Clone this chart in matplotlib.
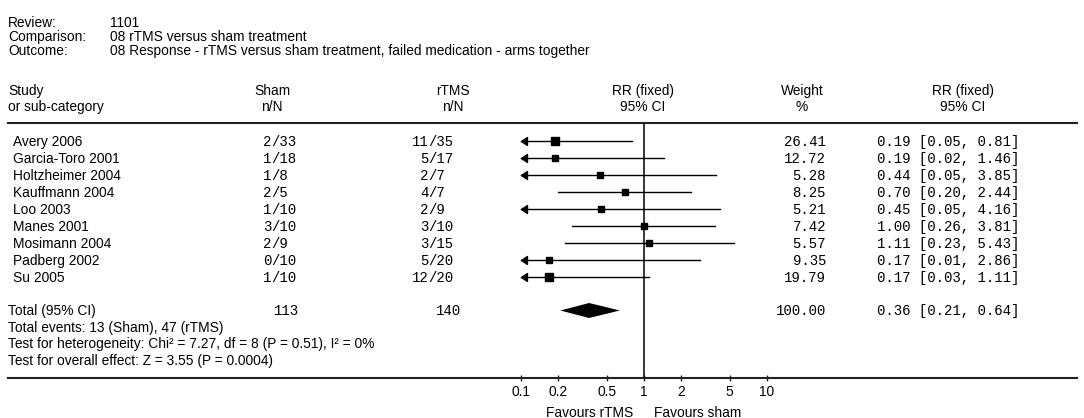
import matplotlib
matplotlib.use("Agg")
import matplotlib.pyplot as plt
from matplotlib.path import Path
import numpy as np

# ---------------- data ----------------
review_labels = ["Review:", "Comparison:", "Outcome:"]
review_values = ["1101", "08 rTMS versus sham treatment",
                 "08 Response - rTMS versus sham treatment, failed medication - arms together"]

studies = ["Avery 2006", "Garcia-Toro 2001", "Holtzheimer 2004", "Kauffmann 2004",
           "Loo 2003", "Manes 2001", "Mosimann 2004", "Padberg 2002", "Su 2005"]
sham_n = [2, 1, 1, 2, 1, 3, 2, 0, 1]
sham_N = [33, 18, 8, 5, 10, 10, 9, 10, 10]
rtms_n = [11, 5, 2, 4, 2, 3, 3, 5, 12]
rtms_N = [35, 17, 7, 7, 9, 10, 15, 20, 20]
weights = [26.41, 12.72, 5.28, 8.25, 5.21, 7.42, 5.57, 9.35, 19.79]
rr = [0.19, 0.19, 0.44, 0.70, 0.45, 1.00, 1.11, 0.17, 0.17]
ci_low = [0.05, 0.02, 0.05, 0.20, 0.05, 0.26, 0.23, 0.01, 0.03]
ci_high = [0.81, 1.46, 3.85, 2.44, 4.16, 3.81, 5.43, 2.86, 1.11]

total_label = "Total (95% CI)"
total_sham = 113
total_rtms = 140
total_weight = 100.00
total_rr = 0.36
total_low = 0.21
total_high = 0.64
footer_lines = ["Total events: 13 (Sham), 47 (rTMS)",
                "Test for heterogeneity: Chi\u00b2 = 7.27, df = 8 (P = 0.51), I\u00b2 = 0%",
                "Test for overall effect: Z = 3.55 (P = 0.0004)"]

tick_values = [0.1, 0.2, 0.5, 1, 2, 5, 10]
tick_labels = ["0.1", "0.2", "0.5", "1", "2", "5", "10"]
axis_min, axis_max = 0.1, 10
favours_left = "Favours rTMS"
favours_right = "Favours sham"

# ---------------- layout ----------------
W, H = 1084, 418
SANS = "Liberation Sans"
MONO = "Liberation Mono"
FS = 9.9
FS_MONO = 10.1
PX = 100 / 72.0

fig = plt.figure(figsize=(W / 100, H / 100), dpi=100)
fig.patch.set_facecolor("white")
ov = fig.add_axes([0, 0, 1, 1])
ov.set_xlim(0, W)
ov.set_ylim(H, 0)
ov.axis("off")

def st(x, y, s, ha="left", mono=False, **kw):
    fs = FS_MONO if mono else FS
    base = y + (0.34 if mono else 0.355) * fs * PX
    ov.text(x, base, s, ha=ha, va="baseline", fontsize=fs,
            family=MONO if mono else SANS, color="black", **kw)

# header block
for i, (lab, val) in enumerate(zip(review_labels, review_values)):
    y = 22.5 + i * 14
    st(8, y, lab)
    st(110, y, val)

hy1, hy2 = 90, 106.5
st(8, hy1, "Study"); st(8, hy2, "or sub-category")
st(272, hy1, "Sham", ha="center"); st(272, hy2, "n/N", ha="center")
st(453, hy1, "rTMS", ha="center"); st(453, hy2, "n/N", ha="center")
st(643, hy1, "RR (fixed)", ha="center"); st(643, hy2, "95% CI", ha="center")
st(802, hy1, "Weight", ha="center"); st(802, hy2, "%", ha="center")
st(963, hy1, "RR (fixed)", ha="center"); st(963, hy2, "95% CI", ha="center")

top_line_y = 123
bottom_line_y = 378
ov.plot([8, 1077], [top_line_y, top_line_y], color="#222222", lw=1.5)
ov.plot([8, 1077], [bottom_line_y, bottom_line_y], color="#222222", lw=1.5)

row_y0, row_dy = 141, 17
sham_slash = 271.3
rtms_slash = 428.3
row_ys = [row_y0 + i * row_dy for i in range(len(studies))]
for y, name, sn, sN, rn, rN, w, r, lo, hi in zip(row_ys, studies, sham_n, sham_N,
                                                  rtms_n, rtms_N, weights, rr, ci_low, ci_high):
    st(13, y, name)
    st(sham_slash, y, str(sn), ha="right", mono=True)
    st(sham_slash, y, "/" + str(sN), ha="left", mono=True)
    st(rtms_slash, y, str(rn), ha="right", mono=True)
    st(rtms_slash, y, "/" + str(rN), ha="left", mono=True)
    st(826, y, f"{w:.2f}", ha="right", mono=True)
    st(877, y, f"{r:.2f} [{lo:.2f}, {hi:.2f}]", mono=True)

total_y = row_ys[-1] + 33.5
st(8, total_y, total_label)
st(274, total_y, str(total_sham), mono=True)
st(436, total_y, str(total_rtms), mono=True)
st(826, total_y, f"{total_weight:.2f}", ha="right", mono=True)
st(877, total_y, f"{total_rr:.2f} [{total_low:.2f}, {total_high:.2f}]", mono=True)
for i, line in enumerate(footer_lines):
    st(8, total_y + 16.5 * (i + 1), line)

# ---------------- forest axes ----------------
x_left_px, x_right_px = 520.7, 766.7
fa = fig.add_axes([x_left_px / W, (H - bottom_line_y) / H,
                   (x_right_px - x_left_px) / W, (bottom_line_y - top_line_y) / H])
fa.set_xscale("log")
fa.set_xlim(axis_min, axis_max)
fa.set_ylim(bottom_line_y, top_line_y)
fa.patch.set_alpha(0)
for sp in fa.spines.values():
    sp.set_visible(False)
fa.set_yticks([])
fa.set_xticks(tick_values)
fa.set_xticklabels(tick_labels, family=SANS, fontsize=FS)
fa.xaxis.set_minor_locator(matplotlib.ticker.NullLocator())
fa.tick_params(axis="x", direction="inout", length=5, width=1, pad=2.5, color="#222222")

fa.axvline(1, color="black", lw=1.1)

arrow_marker = Path([(0, 0), (6, 4), (6, -4), (0, 0)],
                    [Path.MOVETO, Path.LINETO, Path.LINETO, Path.CLOSEPOLY])
wmax = max(weights)
for y, w, r, lo, hi in zip(row_ys, weights, rr, ci_low, ci_high):
    lo_c = max(lo, axis_min)
    hi_c = min(hi, axis_max)
    fa.plot([lo_c, hi_c], [y, y], color="black", lw=1.0, clip_on=False)
    if lo < axis_min:
        fa.plot([axis_min], [y], marker=arrow_marker, markersize=8.6,
                color="black", clip_on=False)
    ms = 3.6 + 2.0 * np.sqrt(w / wmax)
    fa.plot([r], [y], marker="s", markersize=ms, color="black", clip_on=False)

dh = 7.5
fa.fill([total_low, total_rr, total_high, total_rr],
        [total_y, total_y - dh, total_y, total_y + dh], color="black", lw=0, clip_on=False)

st(633, 412, favours_left, ha="right")
st(654, 412, favours_right, ha="left")

fig.savefig("out.png", dpi=100, facecolor="white")
